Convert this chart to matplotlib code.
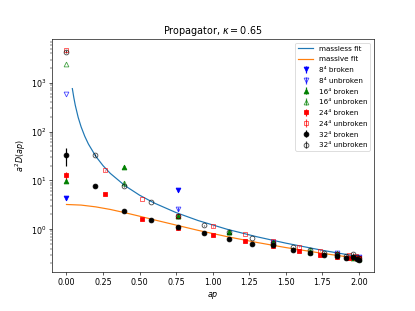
import matplotlib
matplotlib.use("Agg")
import matplotlib.pyplot as plt

# fit curves
fit_p = [0.04, 0.05, 0.06, 0.08, 0.10, 0.125, 0.15, 0.2, 0.25, 0.3, 0.4, 0.5,
         0.6, 0.75, 0.9, 1.1, 1.3, 1.5, 1.75, 2.0]
massless_fit = [760, 500, 347, 195, 125, 80, 55.5, 31.2, 20, 13.85, 7.77, 4.96,
                3.43, 2.18, 1.50, 0.99, 0.70, 0.516, 0.368, 0.273]
massive_p = [0.0, 0.1, 0.2, 0.3, 0.4, 0.5, 0.6, 0.75, 0.9, 1.1, 1.3, 1.5, 1.75, 2.0]
massive_fit = [3.20, 3.11, 2.86, 2.53, 2.17, 1.84, 1.55, 1.21, 0.944, 0.70, 0.535,
               0.419, 0.319, 0.250]

# lattice data
p8 = [0.0, 0.765, 1.414, 1.848, 2.0]
d8_broken = [4.4, 6.4, 0.50, 0.29, 0.26]
d8_unbroken = [600, 2.6, 0.54, 0.32, 0.27]
e8 = [0.4, 0.3, 0.02, 0.02, 0.01]

p16 = [0.0, 0.390, 0.765, 1.111, 1.414, 1.663, 1.848, 1.962, 2.0]
d16_broken = [9.5, 19, 1.85, 0.87, 0.53, 0.34, 0.30, 0.25, 0.24]
d16_unbroken = [2400, 8.8, 1.85, 0.89, 0.55, 0.38, 0.32, 0.27, 0.26]
e16 = [0.8, 1.0, 0.05, 0.02, 0.01, 0.01, 0.01, 0.01, 0.01]

p24 = [0.0, 0.261, 0.518, 0.765, 1.0, 1.218, 1.414, 1.587, 1.732, 1.848, 1.932,
       1.983, 2.0]
d24_broken = [12.6, 5.2, 1.6, 1.05, 0.77, 0.57, 0.46, 0.36, 0.30, 0.27, 0.26,
              0.25, 0.25]
d24_unbroken = [4800, 16, 4.1, 1.9, 1.15, 0.79, 0.57, 0.44, 0.36, 0.31, 0.30,
                0.28, 0.26]
e24 = [2.5, 0.2, 0.05, 0.03, 0.02, 0.01, 0.01, 0.01, 0.01, 0.01, 0.01,
       0.01, 0.01]

p32 = [0.0, 0.196, 0.390, 0.581, 0.765, 0.943, 1.111, 1.269, 1.414, 1.546, 1.663,
       1.764, 1.848, 1.915, 1.962, 1.990, 2.0]
d32_broken = [33, 7.8, 2.35, 1.55, 1.1, 0.82, 0.64, 0.50, 0.47, 0.37, 0.33, 0.29,
              0.28, 0.26, 0.27, 0.24, 0.23]
d32_unbroken = [4300, 33, 7.6, 3.6, 1.9, 1.2, 0.88, 0.66, 0.53, 0.43, 0.37, 0.33,
                0.31, 0.28, 0.31, 0.27, 0.26]
e32_broken = [13, 0.3, 0.08, 0.04, 0.03, 0.02, 0.01, 0.01, 0.01, 0.01, 0.01, 0.01,
              0.01, 0.01, 0.01, 0.01, 0.01]
e32_unbroken = [300, 1.0, 0.2, 0.05, 0.03, 0.02, 0.01, 0.01, 0.01, 0.01, 0.01,
                0.01, 0.01, 0.01, 0.01, 0.01, 0.01]


def plotSet(ax, p, broken, unbroken, color, marker, label, err_b, err_u):
    ax.errorbar(p, broken, yerr=err_b, fmt=marker, color=color,
                label=label + ' broken')
    ax.errorbar(p, unbroken, yerr=err_u, fmt=marker, color=color, mfc='none',
                alpha=0.75, label=label + ' unbroken')


def main():
    fig, ax = plt.subplots(figsize=(7.2, 5.4), dpi=415 / 7.2)
    fig.subplots_adjust(bottom=0.126, top=0.874)

    ax.plot(fit_p, massless_fit, label='massless fit')
    ax.plot(massive_p, massive_fit, label='massive fit')

    plotSet(ax, p8, d8_broken, d8_unbroken, 'b', 'v', '8⁴', e8, e8)
    plotSet(ax, p16, d16_broken, d16_unbroken, 'g', '^', '16⁴', e16, e16)
    plotSet(ax, p24, d24_broken, d24_unbroken, 'r', 's', '24⁴', e24, e24)
    plotSet(ax, p32, d32_broken, d32_unbroken, 'k', 'o', '32⁴',
            e32_broken, e32_unbroken)

    ax.set_yscale('log')
    ax.set_xlabel('$ap$')
    ax.set_ylabel('$a^2D(ap)$')
    ax.set_title(r'Propagator, $\kappa = 0.65$')
    ax.legend(loc='upper right', fontsize=9, labelspacing=0.65)
    fig.savefig('out.png')


if __name__ == '__main__':
    main()
